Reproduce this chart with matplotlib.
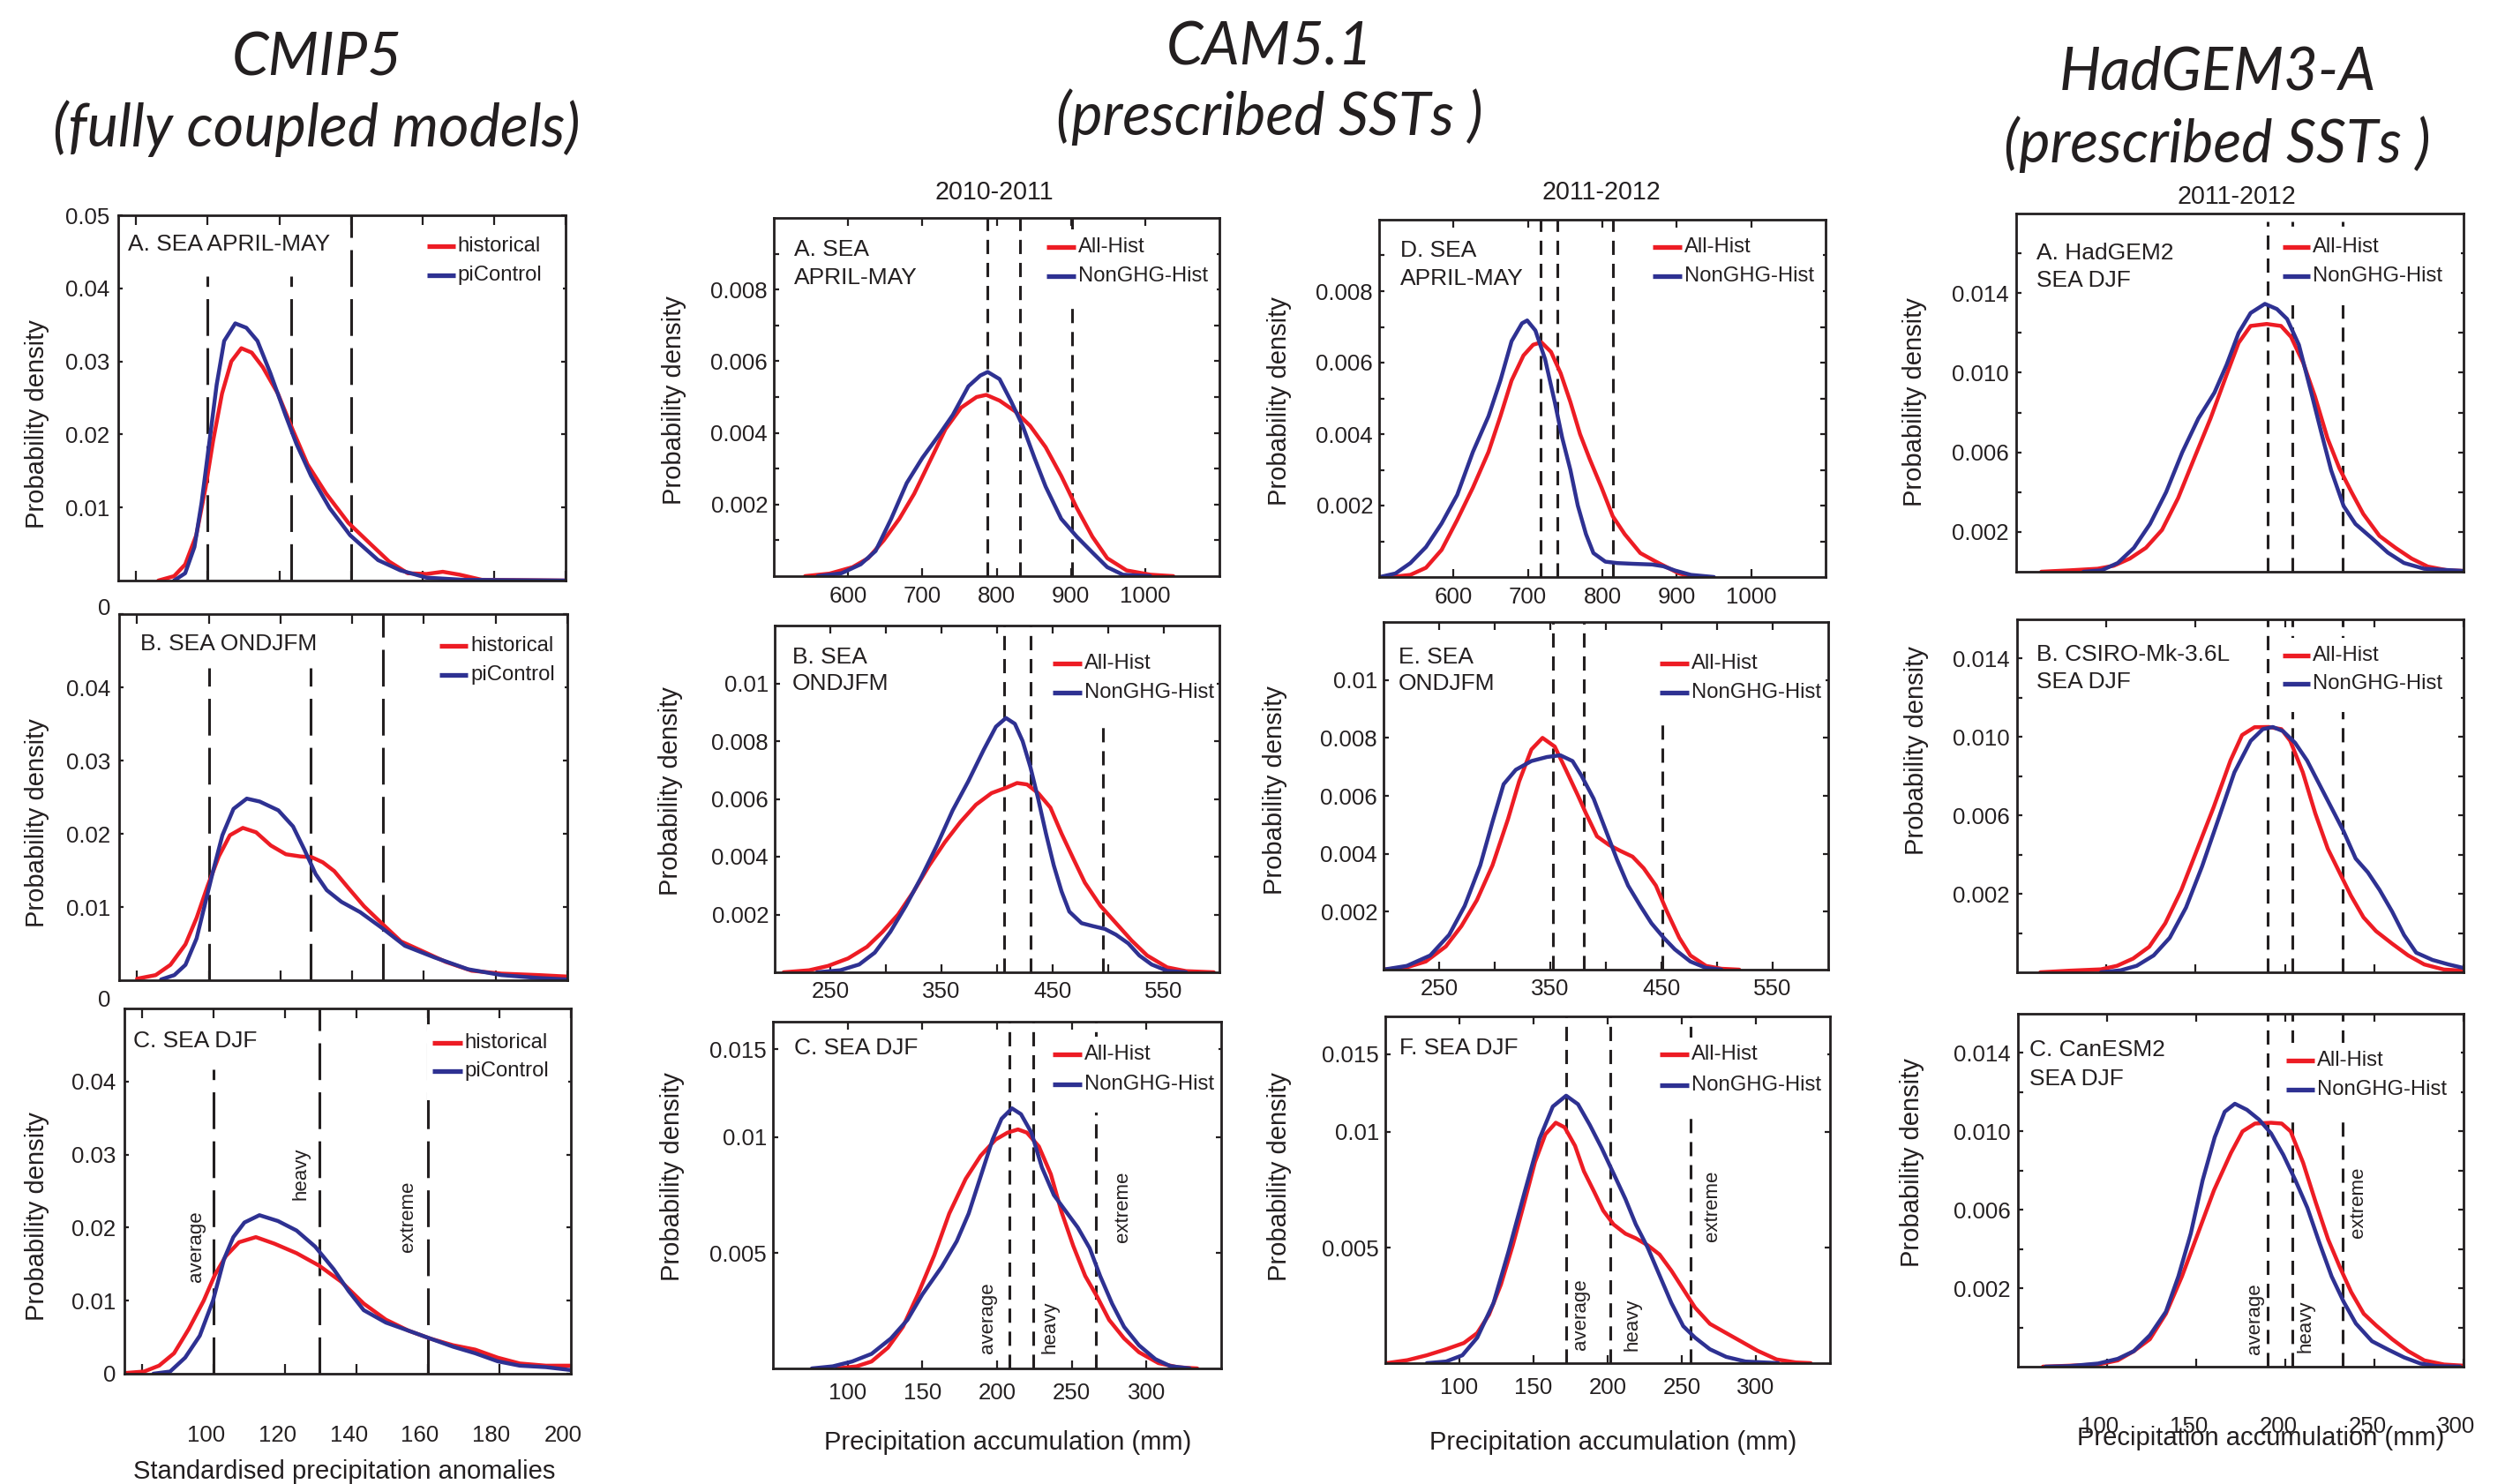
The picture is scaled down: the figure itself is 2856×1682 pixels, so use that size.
import matplotlib
matplotlib.use('Agg')
import matplotlib.pyplot as plt
from matplotlib.lines import Line2D
from matplotlib.patches import Rectangle
import matplotlib.transforms as mtransforms

W, H, DPI = 2856, 1682, 200
RED = '#ED1C24'
BLUE = '#2E3192'
INK = '#231F20'
plt.rcParams['font.family'] = ['Liberation Sans', 'DejaVu Sans']
plt.rcParams['lines.scale_dashes'] = False

# ------------------------------------------------------------------ data
# CMIP5 (standardised anomalies)
cmip_a_hist_x = [86.2, 90.6, 93.7, 96.8, 99.4, 101.5, 104.0, 106.6, 109.4, 112.3, 115.4, 119.6, 123.7, 127.9,
                 133.1, 139.3, 145.5, 150.7, 155.9, 161.1, 165.7, 170.4, 176.6, 200]
cmip_a_hist_y = [0, 0.0006, 0.0022, 0.0062, 0.0127, 0.0191, 0.0256, 0.0300, 0.0318, 0.0312, 0.0292, 0.0256,
                 0.0207, 0.0159, 0.0119, 0.0079, 0.0050, 0.0026, 0.0010, 0.0009, 0.0012, 0.0008, 0.0001, 0]
cmip_a_pi_x = [90.6, 93.7, 96.3, 98.3, 100.4, 102.5, 104.6, 107.7, 110.8, 113.9, 117.5, 121.7, 124.8, 128.9,
               134.1, 139.8, 147.6, 153.8, 161.1, 171.4, 200]
cmip_a_pi_y = [0, 0.0010, 0.0046, 0.0107, 0.0187, 0.0268, 0.0328, 0.0352, 0.0346, 0.0328, 0.0284, 0.0227,
               0.0187, 0.0143, 0.0099, 0.0062, 0.0028, 0.0014, 0.0004, 0.0001, 0]
cmip_b_hist_x = [80, 85.2, 89.3, 93.5, 96.6, 99.7, 102.8, 105.9, 109.5, 113.2, 117.3, 121.5, 125.6, 128.7,
                 131.8, 135.0, 139.1, 143.3, 148.4, 153.6, 159.9, 166.1, 173.3, 181.6, 192, 200]
cmip_b_hist_y = [0.0002, 0.0007, 0.0021, 0.0049, 0.0085, 0.0129, 0.0169, 0.0198, 0.0208, 0.0202, 0.0184,
                 0.0172, 0.0169, 0.0168, 0.0161, 0.0149, 0.0125, 0.0101, 0.0077, 0.0053, 0.0039, 0.0025,
                 0.0013, 0.0009, 0.0007, 0.0005]
cmip_b_pi_x = [86.7, 90.4, 93.5, 96.6, 99.2, 101.2, 103.8, 106.9, 110.6, 114.2, 119.4, 123.5, 126.7, 129.8,
               132.9, 137.0, 142.2, 148.4, 154.7, 163.0, 172.3, 181.6, 192, 200]
cmip_b_pi_y = [0.0001, 0.0007, 0.0021, 0.0057, 0.0109, 0.0149, 0.0198, 0.0234, 0.0248, 0.0244, 0.0232,
               0.0210, 0.0178, 0.0145, 0.0123, 0.0107, 0.0093, 0.0071, 0.0047, 0.0031, 0.0015, 0.0007,
               0.0003, 0.0001]
cmip_c_hist_x = [75.3, 80.5, 84.7, 88.9, 93.0, 97.2, 100.3, 103.4, 107.1, 111.8, 117.0, 123.2, 129.5, 135.7,
                 142.0, 148.2, 154.5, 160.7, 167.0, 173.2, 179.5, 185.7, 193.0, 200]
cmip_c_hist_y = [0.0001, 0.0003, 0.0011, 0.0028, 0.0061, 0.0100, 0.0135, 0.0161, 0.0180, 0.0187, 0.0178,
                 0.0165, 0.0148, 0.0126, 0.0096, 0.0074, 0.0059, 0.0048, 0.0039, 0.0033, 0.0022, 0.0014,
                 0.0011, 0.0011]
cmip_c_pi_x = [83.1, 87.8, 92.0, 96.1, 99.8, 102.9, 105.5, 108.6, 112.8, 118.0, 123.2, 128.4, 133.6, 137.8,
               142.0, 148.2, 154.5, 160.7, 167.0, 173.2, 179.5, 185.7, 193.0, 200]
cmip_c_pi_y = [0, 0.0003, 0.0022, 0.0052, 0.0100, 0.0157, 0.0187, 0.0207, 0.0217, 0.0209, 0.0196, 0.0174,
               0.0143, 0.0113, 0.0087, 0.0070, 0.0059, 0.0048, 0.0037, 0.0028, 0.0017, 0.0011, 0.0009, 0.0005]
cmip_a_thr = [100, 123.4, 140]
cmip_a_thr_top = [0.0417, 0.0417, 0.05]
cmip_b_thr = [100, 128.5, 148.5]
cmip_b_thr_top = [0.0426, 0.0426, 0.05]
cmip_c_thr = [100, 129.5, 160]
cmip_c_thr_top = [0.0417, 0.05, 0.05]

# CAM5.1 2010-2011 (mm)
cam10_a_all_x = [542, 575, 606, 627, 648, 669, 689, 710, 731, 752, 773, 786, 804, 825, 845, 866, 887, 908, 929,
                 949, 975, 1007, 1038]
cam10_a_all_y = [0, 0.00007, 0.00025, 0.0005, 0.001, 0.0016, 0.0023, 0.0032, 0.0041, 0.0047, 0.0050, 0.00506,
                 0.0049, 0.0046, 0.0042, 0.0036, 0.0028, 0.0019, 0.0011, 0.0005, 0.00016, 0.00004, 0]
cam10_a_non_x = [559, 591, 617, 637, 658, 679, 700, 721, 741, 762, 778, 788, 804, 819, 835, 851, 866, 887, 908,
                 929, 949, 970, 1007]
cam10_a_non_y = [0, 0.00008, 0.00033, 0.0007, 0.0016, 0.0026, 0.0033, 0.0039, 0.0045, 0.0053, 0.0056, 0.0057,
                 0.0055, 0.0049, 0.0042, 0.0033, 0.0025, 0.0016, 0.0011, 0.00066, 0.00025, 0.00004, 0]
cam10_b_all_x = [208, 231, 248, 266, 283, 297, 311, 325, 339, 353, 367, 381, 395, 409, 418, 427, 437, 448, 458,
                 469, 479, 493, 507, 521, 535, 553, 570, 595]
cam10_b_all_y = [0, 0.00007, 0.00022, 0.00048, 0.00088, 0.0014, 0.0020, 0.0028, 0.0037, 0.0045, 0.0052, 0.0058,
                 0.0062, 0.0064, 0.00655, 0.0065, 0.0062, 0.0057, 0.0048, 0.0039, 0.0031, 0.0023, 0.0017,
                 0.0011, 0.00058, 0.00017, 0.00004, 0]
cam10_b_non_x = [238, 259, 276, 290, 304, 318, 332, 346, 360, 374, 388, 399, 408, 416, 423, 430, 437, 444, 451,
                 458, 465, 476, 486, 497, 507, 518, 528, 539, 553, 570]
cam10_b_non_y = [0, 0.00007, 0.00027, 0.00068, 0.0014, 0.0023, 0.0033, 0.0044, 0.0056, 0.0066, 0.0077, 0.0085,
                 0.0088, 0.0086, 0.0080, 0.0071, 0.0060, 0.0048, 0.0037, 0.0028, 0.0021, 0.0017, 0.0016,
                 0.0015, 0.0013, 0.0010, 0.00058, 0.00027, 0.00005, 0]
cam10_c_all_x = [93, 106, 116, 127, 137, 147, 158, 168, 179, 189, 199, 207, 214, 220, 228, 236, 243, 251, 259,
                 267, 275, 285, 295, 308, 321, 334]
cam10_c_all_y = [0, 0.00009, 0.0003, 0.0009, 0.0018, 0.0032, 0.0049, 0.0067, 0.0082, 0.0092, 0.0099, 0.0102,
                 0.01034, 0.0102, 0.0096, 0.0084, 0.0068, 0.0053, 0.0040, 0.0031, 0.0021, 0.0013, 0.0007,
                 0.00023, 0.00005, 0]
cam10_c_non_x = [76, 90, 103, 116, 129, 140, 150, 163, 173, 181, 189, 197, 203, 210, 216, 223, 230, 238, 246,
                 254, 262, 269, 277, 285, 295, 306, 316, 329]
cam10_c_non_y = [0, 0.00009, 0.0003, 0.00063, 0.0013, 0.0021, 0.0032, 0.0044, 0.0055, 0.0067, 0.0083, 0.0099,
                 0.0108, 0.01125, 0.0110, 0.0102, 0.0087, 0.0075, 0.0068, 0.0061, 0.0052, 0.0040, 0.0028,
                 0.0018, 0.0010, 0.0004, 0.0001, 0]
cam10_a_thr = [788, 831, 901]
cam10_b_thr = [406, 430, 495]
cam10_b_thr_top = [0.012, 0.012, 0.0112]
cam10_c_thr = [208, 224, 266]

# CAM5.1 2011-2012 (mm)
cam11_d_all_x = [516, 542, 563, 584, 605, 626, 647, 663, 678, 694, 707, 718, 731, 744, 757, 770, 783, 799, 814,
                 830, 851, 872, 888, 903, 924]
cam11_d_all_y = [0, 0.00006, 0.00026, 0.00076, 0.0016, 0.0025, 0.0035, 0.0045, 0.0055, 0.0062, 0.0065, 0.00657,
                 0.0063, 0.0057, 0.0049, 0.0040, 0.0033, 0.0025, 0.0017, 0.0012, 0.00067, 0.00043, 0.00026,
                 0.0001, 0]
cam11_d_non_x = [501, 522, 542, 563, 584, 605, 626, 647, 663, 678, 692, 699, 710, 723, 736, 746, 757, 767, 778,
                 788, 804, 820, 841, 867, 882, 898, 919, 950]
cam11_d_non_y = [0, 0.0001, 0.00039, 0.00084, 0.0015, 0.0023, 0.0035, 0.0045, 0.0055, 0.0066, 0.0071, 0.00718,
                 0.0069, 0.0061, 0.0049, 0.0039, 0.0030, 0.0020, 0.0012, 0.00067, 0.00043, 0.00039, 0.00037,
                 0.00035, 0.0003, 0.00018, 0.00006, 0]
cam11_e_all_x = [200, 221, 238, 256, 270, 284, 298, 312, 322, 333, 343, 354, 364, 375, 382, 392, 403, 413, 424,
                 434, 445, 455, 466, 476, 490, 504, 520]
cam11_e_all_y = [0, 0.00008, 0.00028, 0.0008, 0.0015, 0.0024, 0.0036, 0.0052, 0.0065, 0.0076, 0.0080, 0.0077,
                 0.0069, 0.0060, 0.0054, 0.0046, 0.0043, 0.0041, 0.0039, 0.0035, 0.0029, 0.0020, 0.0011,
                 0.00049, 0.00013, 0.00003, 0]
cam11_e_non_x = [200, 221, 242, 259, 273, 287, 298, 308, 319, 333, 347, 359, 370, 378, 389, 399, 410, 420, 431,
                 441, 452, 462, 476, 490, 504]
cam11_e_non_y = [0, 0.00013, 0.00049, 0.0012, 0.0022, 0.0036, 0.0051, 0.0064, 0.0069, 0.0072, 0.00734, 0.0074,
                 0.0072, 0.0067, 0.0059, 0.0049, 0.0038, 0.0029, 0.0022, 0.0016, 0.0011, 0.0007, 0.00028,
                 0.00006, 0]
cam11_f_all_x = [51, 65, 78, 91, 103, 112, 120, 128, 136, 144, 151, 158, 165, 171, 178, 184, 191, 197, 204, 212,
                 219, 227, 235, 243, 251, 259, 269, 280, 290, 301, 314, 327, 337]
cam11_f_all_y = [0, 0.00013, 0.00034, 0.0006, 0.00087, 0.0013, 0.0021, 0.0034, 0.0051, 0.0070, 0.0087, 0.0099,
                 0.0104, 0.0102, 0.0094, 0.0083, 0.0074, 0.0066, 0.0060, 0.0056, 0.0054, 0.0051, 0.0047,
                 0.0040, 0.0032, 0.0024, 0.0017, 0.0013, 0.00094, 0.00054, 0.00016, 0.00003, 0]
cam11_f_non_x = [78, 91, 102, 112, 123, 133, 144, 154, 163, 172, 180, 188, 196, 204, 212, 219, 227, 235, 243,
                 251, 259, 269, 280, 293, 315]
cam11_f_non_y = [0, 0.00007, 0.00034, 0.0011, 0.0026, 0.0048, 0.0074, 0.0097, 0.0111, 0.01157, 0.0112, 0.0103,
                 0.0093, 0.0082, 0.0071, 0.0060, 0.0050, 0.0038, 0.0026, 0.0016, 0.0011, 0.0006, 0.00027,
                 0.00007, 0]
cam11_d_thr = [717, 739, 814]
cam11_e_thr = [352, 380, 451]
cam11_e_thr_top = [0.012, 0.012, 0.009]
cam11_f_thr = [172, 202, 256]

# HadGEM3-A 2011-2012 (mm)
had_a_all_x = [64, 80, 95.5, 104.5, 113.5, 122.5, 131.5, 140.5, 149.5, 158.6, 167.6, 174.3, 181, 190, 198,
               203.6, 210.4, 217, 224, 230.6, 237.4, 244, 253, 262, 271, 280, 291, 300]
had_a_all_y = [0, 0.00007, 0.00015, 0.0003, 0.00066, 0.0012, 0.0021, 0.0037, 0.0057, 0.0077, 0.0099, 0.0115,
               0.01235, 0.01245, 0.01235, 0.0118, 0.0105, 0.0088, 0.0067, 0.0052, 0.0040, 0.0029, 0.0018,
               0.0012, 0.00066, 0.00026, 0.00007, 0.00004]
had_a_non_x = [87.6, 97.7, 106.8, 115.8, 124.8, 133.8, 142.8, 151.8, 160.8, 167.6, 174.3, 181, 189, 195.7,
               201.4, 208, 214.9, 220.5, 226, 233, 239.6, 248.6, 257.7, 266.7, 278, 300]
had_a_non_y = [0, 0.00007, 0.00044, 0.0012, 0.0024, 0.0040, 0.0060, 0.0077, 0.0090, 0.0104, 0.0120, 0.0130,
               0.01346, 0.0132, 0.0127, 0.0114, 0.0090, 0.0070, 0.0051, 0.0033, 0.0024, 0.0017, 0.00096,
               0.00044, 0.00015, 0.00004]
had_b_all_x = [63, 79, 97, 106, 115, 124, 133, 142, 151, 160, 169.5, 176, 183, 191, 198, 203, 210, 217, 224,
               230.5, 237, 244, 251, 260, 269, 278, 289, 300]
had_b_all_y = [0, 0.00008, 0.00015, 0.00033, 0.0007, 0.0013, 0.0025, 0.0042, 0.0063, 0.0084, 0.0108, 0.0121,
               0.0125, 0.01251, 0.0124, 0.0118, 0.0102, 0.0081, 0.0063, 0.0051, 0.0039, 0.0028, 0.0021,
               0.00146, 0.00086, 0.0004, 0.00014, 0.00008]
had_b_non_x = [97, 108, 117, 126.5, 135.5, 144.6, 153.6, 162.7, 171.7, 180.8, 187.6, 193.2, 198.9, 205.7, 212.4,
               219.2, 226, 232.8, 239.6, 246.4, 253, 260, 266.7, 273.5, 282.6, 291.6, 300]
had_b_non_y = [0, 0.0001, 0.00033, 0.00086, 0.00176, 0.0033, 0.0054, 0.0078, 0.0102, 0.0118, 0.0124, 0.01251,
               0.0123, 0.0117, 0.0108, 0.0096, 0.0084, 0.0072, 0.0058, 0.0051, 0.0042, 0.0031, 0.0019, 0.0010,
               0.00063, 0.0004, 0.00022]
had_c_all_x = [64, 79, 95, 106, 115, 124, 133, 142, 151, 160, 169.5, 176, 183, 192, 198, 203, 210, 217, 224,
               230.5, 237, 244, 251, 260, 269, 278, 289, 300]
had_c_all_y = [0, 0.00005, 0.00011, 0.00032, 0.00079, 0.0014, 0.0027, 0.0046, 0.0068, 0.0090, 0.0109, 0.0120,
               0.0124, 0.01244, 0.0124, 0.0120, 0.0104, 0.0084, 0.0065, 0.0051, 0.0038, 0.0027, 0.0021,
               0.0014, 0.00079, 0.00032, 0.00011, 0.00005]
had_c_non_x = [65.4, 79, 95, 106, 115, 124, 133, 140, 147, 153.6, 160.4, 166, 171.7, 178.5, 185.3, 192, 198.9,
               205.7, 212.4, 219.2, 226, 232.8, 239.6, 248.6, 257.7, 266.7, 275.8, 284.8, 298]
had_c_non_y = [0, 0.00003, 0.00016, 0.0004, 0.00079, 0.0016, 0.0028, 0.0046, 0.0068, 0.0095, 0.0117, 0.0130,
               0.01341, 0.0131, 0.0126, 0.0119, 0.0108, 0.0095, 0.0081, 0.0063, 0.0046, 0.0033, 0.0022,
               0.0013, 0.00087, 0.00047, 0.00016, 0.00003, 0]
had_a_thr = [190.5, 204.3, 232.4]
had_b_thr = [190.3, 204, 232.4]
had_c_thr = [190.3, 204, 232]

cat_labels = ['average', 'heavy', 'extreme']
cmip_c_cat_pos = [(95.1, 0.0174), (124.3, 0.0274), (154.5, 0.0215)]
cam10_c_cat_pos = [(194, 0.0022), (235.7, 0.00177), (284, 0.0070)]
cam11_f_cat_pos = [(181.6, 0.0021), (216.9, 0.00168), (270.5, 0.0068)]
had_c_cat_pos = [(183, 0.00245), (211.3, 0.00206), (240.7, 0.0084)]

cmip_ticks_x = [80, 100, 120, 140, 160, 180, 200]
cmip_ticklabels_x = ['', '100', '120', '140', '160', '180', '200']
cam_apr_ticks_x = [600, 700, 800, 900, 1000]
cam_ond_ticks_x = [250, 300, 350, 400, 450, 500, 550]
cam_ond_ticklabels_x = ['250', '', '350', '', '450', '', '550']
cam_djf_ticks_x = [100, 150, 200, 250, 300]
had_ticks_x = [100, 150, 200, 250, 300]

# ------------------------------------------------------------------ helpers
fig = plt.figure(figsize=(W / DPI, H / DPI), dpi=DPI)
fig.patch.set_facecolor('white')


def px_rect(l, t, r, b):
    return [l / W, 1 - b / H, (r - l) / W, (b - t) / H]


def make_ax(rect, xlim, ylim, xticks, xlabels, yticks, ylabels, xlen, ylen, xpad=4.0, ypad=3.0,
            xshift_px=0, show_x=True):
    ax = fig.add_axes(px_rect(*rect))
    ax.set_xlim(*xlim)
    ax.set_ylim(*ylim)
    if show_x:
        ax.set_xticks(xticks)
        ax.set_xticklabels(xlabels)
    else:
        ax.set_xticks([])
    ax.set_yticks(yticks)
    ax.set_yticklabels(ylabels)
    ax.tick_params(axis='both', direction='in', top=True, right=True, colors=INK, labelcolor=INK,
                   labelsize=9.3, width=0.8)
    ax.tick_params(axis='x', length=xlen, pad=xpad)
    ax.tick_params(axis='y', length=ylen, pad=ypad)
    for s in ax.spines.values():
        s.set_linewidth(1.0)
        s.set_color(INK)
        s.set_zorder(6)
    if xshift_px:
        off = mtransforms.ScaledTranslation(xshift_px / DPI, 0, fig.dpi_scale_trans)
        for lab in ax.get_xticklabels():
            lab.set_transform(lab.get_transform() + off)
    return ax


def curves(ax, xr, yr, xb, yb):
    ax.plot(xr, yr, color=RED, lw=1.6, solid_joinstyle='round', solid_capstyle='round', zorder=3)
    ax.plot(xb, yb, color=BLUE, lw=1.6, solid_joinstyle='round', solid_capstyle='round', zorder=3)


def thresholds(ax, xs, tops, dashes):
    for x, t in zip(xs, tops):
        ax.plot([x, x], [0, t], color=INK, lw=1.1, dashes=dashes, zorder=2)


def legend(ax, x0, x1, xt, y1, y2, names):
    # white legend box hides the dashed lines behind it, as in the original
    ax.add_patch(Rectangle((x0 - 0.012, y2 - 0.08), 0.995 - (x0 - 0.012), (y1 + 0.05) - (y2 - 0.08),
                           transform=ax.transAxes, facecolor='white', edgecolor='none', zorder=2.5))
    for y, c, n in ((y1, RED, names[0]), (y2, BLUE, names[1])):
        ax.add_line(Line2D([x0, x1], [y, y], transform=ax.transAxes, color=c, lw=1.9,
                           solid_capstyle='butt', zorder=4))
        ax.text(xt, y, n, transform=ax.transAxes, ha='left', va='center', fontsize=8.6, color=INK,
                zorder=5)


def label(ax, x, lines):
    for y, t in lines:
        ax.text(x, y, t, transform=ax.transAxes, ha='left', va='center', fontsize=9.5, color=INK,
                zorder=5)


def cats(ax, pos):
    for (x, y), t in zip(pos, cat_labels):
        ax.text(x, y, t, rotation=90, ha='center', va='center', fontsize=8.0, color=INK, zorder=5)


def ylab(x, y):
    fig.text(x / W, 1 - y / H, 'Probability density', rotation=90, ha='center', va='center',
             fontsize=10.5, color=INK)


def ftext(x, y, t, **kw):
    fig.text(x / W, 1 - y / H, t, ha='center', va='center', color=INK, **kw)


LONG = (15, 5)
SHORT = (5.8, 3.6)
CM_LEG = ('historical', 'piControl')
GHG_LEG = ('All-Hist', 'NonGHG-Hist')

# ------------------------------------------------------------------ CMIP5 column
cmip_yt = [0.01, 0.02, 0.03, 0.04, 0.05]
ax = make_ax((134, 244, 641, 658), (75, 200), (0, 0.05), cmip_ticks_x, [''] * 7,
             cmip_yt, ['0.01', '0.02', '0.03', '0.04', '0.05'], 3.8, 1.8, ypad=3.6)
thresholds(ax, cmip_a_thr, cmip_a_thr_top, LONG)
curves(ax, cmip_a_hist_x, cmip_a_hist_y, cmip_a_pi_x, cmip_a_pi_y)
legend(ax, 0.690, 0.753, 0.759, 0.915, 0.836, CM_LEG)
label(ax, 0.022, [(0.920, 'A. SEA APRIL-MAY')])
ylab(42, 481)

ax = make_ax((135, 696, 643, 1111), (75, 200), (0, 0.05), cmip_ticks_x, [''] * 7,
             cmip_yt, ['0.01', '0.02', '0.03', '0.04', ''], 3.8, 1.8, ypad=3.6)
thresholds(ax, cmip_b_thr, cmip_b_thr_top, LONG)
curves(ax, cmip_b_hist_x, cmip_b_hist_y, cmip_b_pi_x, cmip_b_pi_y)
legend(ax, 0.715, 0.778, 0.785, 0.913, 0.833, CM_LEG)
label(ax, 0.047, [(0.918, 'B. SEA ONDJFM')])
ylab(42, 933)
ftext(118, 690, '0', fontsize=9.3)

ax = make_ax((141, 1143, 647, 1557), (75, 200), (0, 0.05), cmip_ticks_x, cmip_ticklabels_x,
             [0, 0.01, 0.02, 0.03, 0.04], ['0', '0.01', '0.02', '0.03', '0.04'], 3.8, 1.8,
             xpad=21, ypad=3.6, xshift_px=-9)
thresholds(ax, cmip_c_thr, cmip_c_thr_top, LONG)
curves(ax, cmip_c_hist_x, cmip_c_hist_y, cmip_c_pi_x, cmip_c_pi_y)
legend(ax, 0.690, 0.757, 0.761, 0.906, 0.828, CM_LEG)
label(ax, 0.02, [(0.911, 'C. SEA DJF')])
cats(ax, cmip_c_cat_pos)
ylab(42, 1379)
ftext(118, 1134, '0', fontsize=9.3)
ftext(390, 1668, 'Standardised precipitation anomalies', fontsize=10.5)

# ------------------------------------------------------------------ CAM5.1 2010-2011
apr_yt = [0.001 * i for i in range(1, 10)]
apr_yl = ['', '0.002', '', '0.004', '', '0.006', '', '0.008', '']
ond_yt = [0.002, 0.004, 0.006, 0.008, 0.010]
ond_yl = ['0.002', '0.004', '0.006', '0.008', '0.01']

ax = make_ax((877, 247, 1382, 653), (500, 1100), (0, 0.01), cam_apr_ticks_x,
             [str(v) for v in cam_apr_ticks_x], apr_yt, apr_yl, 3.3, 2.3, xpad=4.1, ypad=2.5)
thresholds(ax, cam10_a_thr, [0.01] * 3, SHORT)
curves(ax, cam10_a_all_x, cam10_a_all_y, cam10_a_non_x, cam10_a_non_y)
legend(ax, 0.612, 0.677, 0.683, 0.919, 0.837, GHG_LEG)
label(ax, 0.046, [(0.911, 'A. SEA'), (0.833, 'APRIL-MAY')])
ylab(764, 454)
ftext(1127, 218, '2010-2011', fontsize=10.3)

ax = make_ax((878, 709, 1382, 1102), (200, 600), (0, 0.012), cam_ond_ticks_x, cam_ond_ticklabels_x,
             ond_yt, ond_yl, 3.3, 2.3, xpad=3.6, ypad=2.5)
thresholds(ax, cam10_b_thr, cam10_b_thr_top, SHORT)
curves(ax, cam10_b_all_x, cam10_b_all_y, cam10_b_non_x, cam10_b_non_y)
legend(ax, 0.625, 0.690, 0.696, 0.890, 0.807, GHG_LEG)
label(ax, 0.040, [(0.908, 'B. SEA'), (0.832, 'ONDJFM')])
ylab(760, 897)

ax = make_ax((876, 1158, 1384, 1551), (50, 350), (0, 0.015), cam_djf_ticks_x,
             [str(v) for v in cam_djf_ticks_x], [0.005, 0.01, 0.0138], ['0.005', '0.01', '0.015'],
             3.3, 2.3, xpad=5.6, ypad=2.5)
thresholds(ax, cam10_c_thr, [0.015] * 3, SHORT)
curves(ax, cam10_c_all_x, cam10_c_all_y, cam10_c_non_x, cam10_c_non_y)
legend(ax, 0.624, 0.689, 0.695, 0.906, 0.819, GHG_LEG)
label(ax, 0.047, [(0.924, 'C. SEA DJF')])
cats(ax, cam10_c_cat_pos)
ylab(762, 1334)
ftext(1142, 1635, 'Precipitation accumulation (mm)', fontsize=10.5)

# ------------------------------------------------------------------ CAM5.1 2011-2012
ax = make_ax((1563, 249, 2069, 654), (500, 1100), (0, 0.01), cam_apr_ticks_x,
             [str(v) for v in cam_apr_ticks_x], apr_yt, apr_yl, 3.3, 2.3, xpad=4.1, ypad=2.5)
thresholds(ax, cam11_d_thr, [0.01] * 3, SHORT)
curves(ax, cam11_d_all_x, cam11_d_all_y, cam11_d_non_x, cam11_d_non_y)
legend(ax, 0.613, 0.678, 0.684, 0.923, 0.842, GHG_LEG)
label(ax, 0.047, [(0.914, 'D. SEA'), (0.835, 'APRIL-MAY')])
ylab(1450, 455)
ftext(1815, 218, '2011-2012', fontsize=10.3)

ax = make_ax((1568, 705, 2072, 1099), (200, 600), (0, 0.012), cam_ond_ticks_x, cam_ond_ticklabels_x,
             ond_yt, ond_yl, 3.3, 2.3, xpad=3.6, ypad=2.5)
thresholds(ax, cam11_e_thr, cam11_e_thr_top, SHORT)
curves(ax, cam11_e_all_x, cam11_e_all_y, cam11_e_non_x, cam11_e_non_y)
legend(ax, 0.621, 0.687, 0.692, 0.881, 0.797, GHG_LEG)
label(ax, 0.034, [(0.898, 'E. SEA'), (0.822, 'ONDJFM')])
ylab(1445, 896)

ax = make_ax((1570, 1152, 2074, 1545), (50, 350), (0, 0.015), cam_djf_ticks_x,
             [str(v) for v in cam_djf_ticks_x], [0.005, 0.01, 0.01336], ['0.005', '0.01', '0.015'],
             3.3, 2.3, xpad=5.6, ypad=2.5)
thresholds(ax, cam11_f_thr, [0.015] * 3, SHORT)
curves(ax, cam11_f_all_x, cam11_f_all_y, cam11_f_non_x, cam11_f_non_y)
legend(ax, 0.617, 0.683, 0.689, 0.890, 0.8025, GHG_LEG)
label(ax, 0.032, [(0.908, 'F. SEA DJF')])
cats(ax, cam11_f_cat_pos)
ylab(1450, 1334)
ftext(1828, 1635, 'Precipitation accumulation (mm)', fontsize=10.5)

# ------------------------------------------------------------------ HadGEM3-A
had_yt = [0.002 * i for i in range(1, 9)]
had_yl_a = ['0.002', '', '0.006', '', '0.010', '', '0.014', '']
had_yl_bc = ['', '0.002', '', '0.006', '', '0.010', '', '0.014']

ax = make_ax((2285, 242, 2792, 648), (50, 300), (0, 0.018), had_ticks_x, [''] * 5,
             had_yt, had_yl_a, 3.3, 2.3, ypad=2.9, show_x=False)
thresholds(ax, had_a_thr, [0.0176] * 3, SHORT)
curves(ax, had_a_all_x, had_a_all_y, had_a_non_x, had_a_non_y)
legend(ax, 0.596, 0.657, 0.663, 0.906, 0.825, GHG_LEG)
label(ax, 0.045, [(0.889, 'A. HadGEM2'), (0.813, 'SEA DJF')])
ylab(2170, 456)
ftext(2535, 223, '2011-2012', fontsize=10.3)

ax = make_ax((2286, 702, 2792, 1102), (50, 300), (0, 0.018), had_ticks_x, [''] * 5,
             had_yt, had_yl_bc, 3.3, 2.3, ypad=2.9)
thresholds(ax, had_b_thr, [0.018] * 3, SHORT)
curves(ax, had_b_all_x, had_b_all_y, had_b_non_x, had_b_non_y)
legend(ax, 0.595, 0.656, 0.662, 0.8975, 0.8175, GHG_LEG)
label(ax, 0.043, [(0.900, 'B. CSIRO-Mk-3.6L'), (0.822, 'SEA DJF')])
ylab(2172, 851)

ax = make_ax((2287, 1149, 2792, 1549), (50, 300), (0, 0.018), had_ticks_x,
             [str(v) for v in had_ticks_x], had_yt, had_yl_bc, 3.3, 2.3, xpad=20, ypad=2.9,
             xshift_px=-8)
thresholds(ax, had_c_thr, [0.018] * 3, SHORT)
curves(ax, had_c_all_x, had_c_all_y, had_c_non_x, had_c_non_y)
legend(ax, 0.602, 0.665, 0.671, 0.8675, 0.786, GHG_LEG)
label(ax, 0.026, [(0.8975, 'C. CanESM2'), (0.815, 'SEA DJF')])
cats(ax, had_c_cat_pos)
ylab(2167, 1318)
ftext(2562, 1630, 'Precipitation accumulation (mm)', fontsize=10.5)

# ------------------------------------------------------------------ column titles
TFONT = dict(fontsize=24, family=['Lato', 'DejaVu Sans'], style='italic')
ftext(359, 67, 'CMIP5', **TFONT)
ftext(359, 146, '(fully coupled models)', **TFONT)
ftext(1439, 55, 'CAM5.1', **TFONT)
ftext(1439, 133, '(prescribed SSTs )', **TFONT)
ftext(2513, 82, 'HadGEM3-A', **TFONT)
ftext(2513, 164, '(prescribed SSTs )', **TFONT)

fig.savefig('out.png', dpi=DPI, facecolor='white')
